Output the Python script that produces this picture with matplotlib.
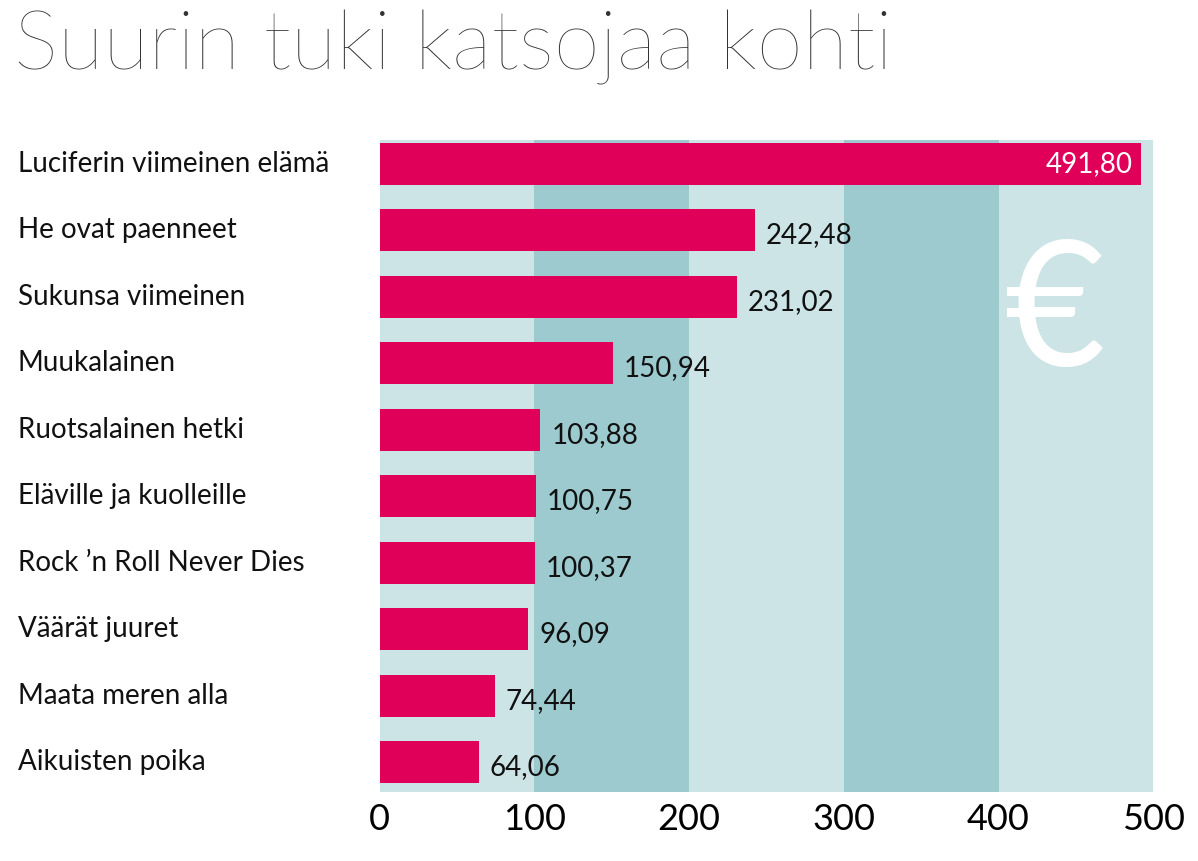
import matplotlib as mpl
mpl.use('Agg')
import matplotlib.pyplot as plt

titles = ['Luciferin viimeinen elämä', 'He ovat paenneet', 'Sukunsa viimeinen',
          'Muukalainen', 'Ruotsalainen hetki', 'Eläville ja kuolleille',
          'Rock \u2019n Roll Never Dies', 'Väärät juuret', 'Maata meren alla',
          'Aikuisten poika']
values = [491.80, 242.48, 231.02, 150.94, 103.88, 100.75, 100.37, 96.09, 74.44, 64.06]
ticks = [0, 100, 200, 300, 400, 500]

plt.rcParams['font.family'] = 'Lato'
fig = plt.figure(figsize=(11.98, 8.61), dpi=100)
ax = fig.add_axes([0.317, 0.080, 0.6456, 0.757])

light, dark = '#cde4e6', '#9ccacf'
for i in range(5):
    ax.axvspan(ticks[i], ticks[i + 1], color=dark if i % 2 else light, zorder=0, lw=0)

ypos = list(range(len(values)))
ax.barh(ypos, values, height=0.63, color='#e0005a', zorder=2)
for y, v in zip(ypos, values):
    s = f'{v:.2f}'.replace('.', ',')
    if v > 400:
        ax.text(v - 5, y, s, color='white', ha='right', va='center', fontsize=20, zorder=3)
    else:
        ax.text(v + 7, y + 0.08, s, color='#111111', ha='left', va='center', fontsize=20, zorder=3)

ax.text(437, 2.3, '€', color='white', fontsize=125, ha='center', va='center', zorder=1)

ax.set_xlim(0, 500)
ax.set_ylim(len(values) - 0.55, -0.35)
ax.set_xticks(ticks)
ax.set_xticklabels([str(t) for t in ticks], fontsize=26)
ax.set_yticks([])
for y, t in zip(ypos, titles):
    ax.text(-0.468, y, t, transform=ax.get_yaxis_transform(), ha='left', va='center',
            fontsize=20, color='#111111')
for sp in ax.spines.values():
    sp.set_visible(False)
ax.tick_params(axis='x', length=0, pad=8)

fig.text(0.012, 0.945, 'Suurin tuki katsojaa kohti', fontsize=60, fontweight='light',
         color='#333333', va='center', ha='left')

fig.savefig('out.png', dpi=100, facecolor='white')
